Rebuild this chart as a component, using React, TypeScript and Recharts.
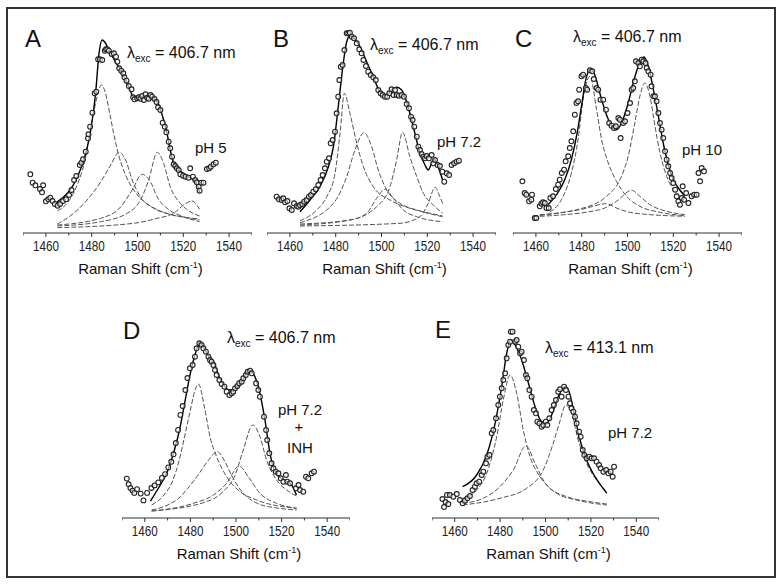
import React from "react";
import { ComposedChart, Line, Scatter, XAxis, YAxis } from "recharts";

type Pt = [number, number];

// Raman shift (cm-1) vs intensity (arb. units).
// Each panel: measured points, total fit, and the fitted bands.

// A: pH 5, 406.7 nm
const A_POINTS: Pt[] = [
  [1453.2, 58.7], [1454.2, 50.3], [1455.4, 47.7], [1457.4, 44], [1458.3, 40.7], [1458.8, 47.7],
  [1460, 31.7], [1461, 33.7], [1461.9, 35.3], [1462.9, 32], [1463.9, 29], [1465.1, 27.3],
  [1466.2, 29], [1467.5, 32], [1468.8, 33.7], [1470.1, 38], [1471.2, 43], [1472.3, 53],
  [1473.3, 57], [1474.8, 68], [1475.5, 70.3], [1476.2, 73.7], [1477.4, 81.3], [1478.4, 94.7],
  [1478.6, 98.7], [1479.3, 106.3], [1480.3, 120.3], [1481.3, 139.7], [1482, 141.3], [1482.8, 173.7],
  [1483.6, 173.7], [1484.6, 173], [1485.7, 182.3], [1486.2, 183.7], [1486.8, 183.7], [1487.5, 182.3],
  [1488.7, 179], [1489.7, 179.7], [1490.6, 176.3], [1491.2, 171.3], [1492, 164.7], [1492.9, 162.3],
  [1493.8, 159.7], [1494.3, 155.7], [1495.2, 152.3], [1496.2, 147], [1497.4, 143.7], [1498.1, 135.7],
  [1498.7, 133.7], [1499.9, 134.7], [1500.6, 135.7], [1501.3, 134.3], [1502, 137], [1502.8, 133],
  [1503.5, 138.7], [1504.2, 135.3], [1504.9, 134.3], [1505.7, 138], [1506.4, 136.3], [1507.4, 134],
  [1508.3, 131], [1509, 125.7], [1510, 123], [1511, 110.3], [1511.9, 106.3], [1512.6, 100.7],
  [1513.6, 91.3], [1514.3, 84.7], [1515.1, 76.3], [1515.8, 68.7], [1516.5, 67], [1517.2, 64.7],
  [1518, 63], [1518.7, 58.7], [1519.9, 57.3], [1521, 56.3], [1522.3, 55.3], [1523, 64.7],
  [1524.2, 56.3], [1525.2, 53], [1525.9, 50.7], [1526.7, 46.3], [1527.1, 42.3], [1527.8, 50.3],
  [1528.8, 50.3], [1530.3, 64], [1531.3, 64.7], [1532, 66.3], [1533.2, 68.7], [1534.2, 70.3],
];
const A_FIT: Pt[] = [
  [1464.8, 31], [1469.4, 39.7], [1473.8, 56], [1477.4, 79.7], [1479.6, 103], [1481.7, 139.7],
  [1483.2, 179.7], [1484.6, 193], [1485.7, 191], [1487.5, 183], [1490.4, 171], [1493.3, 160],
  [1496.2, 146], [1498.4, 136], [1501.3, 135.7], [1504.2, 136.3], [1507.1, 134.7], [1509.3, 128],
  [1511.4, 113], [1512.9, 99.7], [1514.3, 83], [1515.8, 69.7], [1518, 63], [1520.1, 59.7],
  [1522.3, 56.3], [1524.5, 53], [1526.7, 44.7], [1527.1, 40.3],
];
const A_BAND1: Pt[] = [
  [1465, 22], [1470, 32], [1474, 50], [1477, 72], [1480, 110], [1482, 133], [1484.3, 148],
  [1486, 140], [1488, 118], [1490, 95], [1492, 76], [1495, 57], [1500, 38], [1505, 28],
  [1510, 22], [1515, 18], [1520, 16], [1527, 14],
];
const A_BAND2: Pt[] = [
  [1465, 9], [1470, 16], [1476.7, 29.7], [1483.9, 51], [1488.3, 68], [1491.9, 80.7], [1494.8, 73],
  [1497.7, 53], [1501.3, 36], [1507.1, 24.7], [1515.8, 18], [1527.1, 13],
];
const A_BAND3: Pt[] = [
  [1465, 8], [1483.9, 14.7], [1492.6, 26], [1497.7, 43], [1502, 58.7], [1505.7, 51],
  [1508.6, 36], [1512.9, 24.7], [1520.1, 16.3], [1527.1, 11.3],
];
const A_BAND4: Pt[] = [
  [1465, 7], [1483.9, 11.3], [1495.5, 19.7], [1501.3, 33], [1504.9, 53], [1508.6, 80.7],
  [1511.4, 69.7], [1514.3, 46.3], [1518.7, 29.7], [1523, 21.3], [1527.1, 17],
];
const A_BAND5: Pt[] = [
  [1465, 5.3], [1498.4, 9.7], [1508.6, 14.7], [1515.8, 19.7], [1520.1, 28], [1523.8, 32],
  [1525.9, 28], [1527.1, 23.7],
];

// B: pH 7.2, 406.7 nm
const B_POINTS: Pt[] = [
  [1454.2, 36.3], [1455.2, 33.7], [1456.4, 33], [1457.1, 34.7], [1457.9, 30.7], [1458.9, 32],
  [1459.8, 24.7], [1460.8, 23], [1461.8, 29.7], [1463, 27], [1463.7, 26.3], [1464.4, 28],
  [1465.4, 29], [1466.2, 31.3], [1467.3, 33], [1468.3, 36.3], [1469.2, 38], [1470.2, 41.3],
  [1471.3, 43.7], [1472.4, 48], [1473.4, 53], [1474.3, 58], [1475.3, 64.7], [1476.1, 71.3],
  [1477.1, 74.7], [1477.8, 89.7], [1478.7, 93], [1479.7, 101.3], [1480.4, 119.7], [1481.1, 136.3],
  [1481.6, 153], [1482.2, 166.3], [1483, 168], [1483.8, 183], [1484.8, 199.7], [1485.5, 199.7],
  [1486.2, 200.3], [1487, 196.3], [1488, 194.7], [1489.2, 189.7], [1490.3, 183.7], [1491.3, 179.7],
  [1492.1, 173], [1493.2, 167], [1494.2, 161.3], [1495.3, 158], [1496.4, 155.7], [1497.5, 153],
  [1498.6, 143], [1499.6, 139.7], [1500.5, 138], [1501.5, 136.3], [1502.5, 136.3], [1503.4, 139.7],
  [1504.4, 143.7], [1505.2, 138], [1505.9, 143], [1506.6, 138], [1507.6, 137.3], [1508.8, 138],
  [1509.8, 136.3], [1511, 129], [1512, 124.7], [1512.9, 116.3], [1513.6, 113], [1514.3, 106.3],
  [1515.4, 96.3], [1516.1, 86.3], [1516.8, 83], [1517.5, 79], [1518.3, 76.3], [1519, 74.7],
  [1519.7, 77], [1520.7, 74.7], [1521.9, 78], [1522.6, 69.7], [1523.4, 73], [1524.5, 68],
  [1525.5, 67], [1526.6, 61.3], [1527.4, 51.3], [1528.5, 59.7], [1529.5, 58], [1530.6, 68],
  [1531.7, 69.7], [1532.8, 71.3], [1533.8, 72.3],
];
const B_FIT: Pt[] = [
  [1464.4, 21.3], [1468.8, 33], [1473.1, 46.3], [1476.8, 66.3], [1479, 86.3], [1481.1, 126],
  [1483.3, 169.7], [1484.8, 191.3], [1486.2, 197], [1488, 194.7], [1490.6, 186.3], [1493.5, 171.3],
  [1496.4, 156.3], [1499.3, 141.3], [1502.3, 138], [1504.4, 143], [1506.6, 145.7], [1508.8, 143],
  [1510.7, 133], [1512.4, 119.7], [1514.6, 99.7], [1516.8, 79.7], [1519, 68], [1520.4, 63],
  [1521.9, 69.7], [1523.1, 73.7], [1524.1, 69.7], [1525.5, 61.3], [1526.7, 53],
];
const B_BAND1: Pt[] = [
  [1464.4, 12.3], [1471.7, 23], [1476.1, 36.3], [1479.7, 59.7], [1481.9, 99.7], [1483.8, 139.7],
  [1486.2, 119.7], [1489.2, 89.7], [1492.1, 66.3], [1496.4, 46.3], [1503.7, 33], [1512.4, 24.7],
  [1521.2, 19.7], [1526.7, 17],
];
const B_BAND2: Pt[] = [
  [1464.4, 10.3], [1479, 29.7], [1484.8, 56.3], [1488.4, 83], [1492.4, 100.3], [1495.7, 86.3],
  [1498.6, 63], [1502.3, 43], [1508.1, 29.7], [1515.4, 23], [1526.7, 16.3],
];
const B_BAND3: Pt[] = [
  [1464.4, 9], [1486.2, 13], [1493.5, 19.7], [1497.9, 34.7], [1501.5, 43.7], [1505.2, 34.7],
  [1509.5, 23], [1515.4, 16.3], [1526.7, 11.3],
];
const B_BAND4: Pt[] = [
  [1464.4, 8], [1486.2, 13], [1497.9, 26.3], [1503.7, 46.3], [1506.6, 73], [1509.2, 100.7],
  [1512.4, 76.3], [1515.4, 56.3], [1518.3, 39.7], [1522.6, 28], [1526.7, 19.7],
];
const B_BAND5: Pt[] = [
  [1464.4, 7], [1508.1, 9.7], [1516.8, 16.3], [1520.4, 29.7], [1523.4, 45.7], [1525.5, 36.3],
  [1527, 28],
];

// C: pH 10, 406.7 nm
const C_POINTS: Pt[] = [
  [1454.1, 51.7], [1455.1, 40], [1455.8, 38.3], [1457, 31.7], [1458, 33.3], [1458.3, 38.3],
  [1459.5, 15], [1460.2, 15], [1461.7, 26.7], [1462.4, 29.3], [1463.1, 30.7], [1463.9, 30],
  [1464.6, 25], [1465.6, 25], [1466.3, 35], [1467.5, 36.7], [1468.7, 44], [1469.7, 48.3],
  [1470.4, 53.3], [1471.3, 60], [1472.3, 63.3], [1473, 71.7], [1474.1, 76.7], [1474.8, 85],
  [1475.5, 91.7], [1476.3, 101.7], [1477, 118.3], [1477.7, 130], [1478.4, 131.7], [1478.9, 143.3],
  [1479.9, 156.7], [1480.6, 158.3], [1481.8, 145], [1482.4, 143.3], [1483.6, 162.7], [1484.6, 161.7],
  [1485.3, 154], [1486.5, 145], [1487.2, 143.3], [1488.2, 133.3], [1489.4, 133.3], [1490.6, 123.3],
  [1492, 110], [1493, 107.3], [1494.1, 105], [1494.9, 106.7], [1496, 115], [1496.7, 113.3],
  [1497, 95], [1498.1, 110], [1498.9, 111.7], [1500, 120], [1501.1, 130], [1501.8, 143.3],
  [1502.5, 145], [1503.2, 151.7], [1503.7, 171.7], [1504.7, 170], [1505.4, 166.7], [1506.2, 173.3],
  [1506.9, 171.7], [1507.9, 170], [1508.4, 165], [1509.1, 161.7], [1510.1, 158.3], [1510.5, 146.7],
  [1511.3, 136.7], [1512, 136.7], [1512.7, 131.7], [1513.5, 120], [1514.2, 110], [1514.9, 103.3],
  [1515.6, 95], [1516.4, 81.7], [1517.1, 73.3], [1517.8, 66.7], [1518.6, 60], [1519.3, 55],
  [1520, 50], [1520.8, 43.3], [1521.5, 36.7], [1522.2, 31.7], [1522.9, 28.3], [1523.7, 35],
  [1524.1, 46.7], [1524.7, 33.3], [1525.6, 40], [1526.6, 30], [1528, 36.7], [1529.1, 38.3],
  [1530.2, 38.3], [1531, 60], [1531.7, 51.7], [1532.4, 65], [1533.4, 61.7],
];
const C_FIT: Pt[] = [
  [1465.3, 28.3], [1469, 38.3], [1472.6, 53.3], [1475.5, 73.3], [1478, 100], [1479.9, 126.7],
  [1481.8, 153.3], [1483.8, 164], [1485.7, 158.3], [1487.9, 140], [1490.8, 118.3], [1493.8, 105],
  [1495.2, 103.3], [1497.4, 110], [1500.3, 130], [1502.5, 150], [1504.7, 166.7], [1507.2, 176],
  [1509.1, 166.7], [1511.3, 143.3], [1513.5, 116.7], [1515.6, 90], [1517.8, 68.3], [1520, 53.3],
  [1522.2, 45], [1525.1, 36.7],
];
const C_BAND1: Pt[] = [
  [1466, 20.7], [1471.9, 36.7], [1475.5, 60], [1478.4, 93.3], [1480.6, 133.3], [1483.6, 156.7],
  [1486.5, 123.3], [1488.7, 93.3], [1491.6, 70], [1495.2, 51.7], [1499.6, 36.7], [1505.4, 26.7],
  [1514.2, 20.7], [1525.1, 17.3],
];
const C_BAND2: Pt[] = [
  [1461.7, 17.5], [1480.6, 24], [1490.8, 29.3], [1495.2, 25], [1502.5, 20], [1525.1, 16.7],
];
const C_BAND3: Pt[] = [
  [1461.7, 16.7], [1487.9, 23.3], [1495.2, 31.7], [1501.8, 42.7], [1505.4, 36.7], [1509.8, 28.3],
  [1517.1, 21.7], [1525.1, 18.3],
];
const C_BAND4: Pt[] = [
  [1461.7, 18.3], [1480.6, 25], [1490.8, 36.7], [1496.7, 53.3], [1500.3, 76.7], [1503.2, 110],
  [1505.4, 136.7], [1507.6, 150], [1509.8, 136.7], [1512, 106.7], [1514.2, 80], [1517.1, 56.7],
  [1520, 43.3], [1525.1, 30],
];

// D: pH 7.2 + INH, 406.7 nm
const D_POINTS: Pt[] = [
  [1452.1, 39.4], [1452.9, 33.7], [1453.7, 30], [1454.6, 27.4], [1455.4, 25.1], [1456.6, 28.9],
  [1458.2, 24.4], [1459.4, 17.6], [1461, 25.1], [1462.9, 30], [1464.3, 32.6], [1465.9, 35.6],
  [1467.5, 40.1], [1468.9, 43.9], [1470.3, 50.6], [1471.6, 56.2], [1472.6, 63.7], [1473.6, 75],
  [1474.6, 88.1], [1475.6, 103.1], [1476.6, 112], [1477.8, 128], [1478.7, 140], [1479.8, 149.7],
  [1481, 153], [1482, 161.3],
  [1482.7, 169.7], [1483.9, 174.7], [1484.9, 173], [1485.7, 169.7], [1486.8, 166.3], [1487.9, 161.3],
  [1488.6, 158], [1489.3, 156.3], [1490.1, 153], [1490.8, 148], [1491.5, 143], [1492.7, 138],
  [1493.7, 134], [1494.9, 131.3], [1495.9, 126.3], [1497.1, 123], [1498.1, 124.7], [1498.8, 126.3],
  [1499.6, 129.7], [1500.6, 132], [1501.4, 134.7], [1502.5, 136.3], [1503.2, 139.7], [1504.3, 143],
  [1505.1, 146.3], [1506.2, 147.3], [1506.9, 144.7], [1508.8, 134.7], [1509.8, 128], [1510.5, 121.3],
  [1512.3, 101.3], [1513.2, 88], [1513.7, 78], [1514.6, 64.7], [1515.6, 54.7], [1516.4, 49.7],
  [1517.4, 46.3], [1518.6, 44.7], [1519.6, 39.7], [1520.8, 36.3], [1521.9, 43], [1522.5, 36.3],
  [1523.7, 34.7], [1526.3, 29.7], [1527.4, 33], [1528.1, 28], [1529.5, 26.3], [1530.7, 41.3],
  [1531.7, 39.7], [1533.2, 44.7], [1534.2, 46.3],
];
const D_FIT: Pt[] = [
  [1462.5, 17], [1466, 30], [1470, 47], [1473, 68], [1475.4, 90], [1477.5, 115], [1480, 145],
  [1482, 163], [1484.2, 176], [1486, 170], [1488, 162], [1490.1, 156.3], [1493, 139],
  [1497.4, 128], [1500.3, 129.7], [1503, 138], [1505.4, 148], [1506.9, 146.3], [1509.8, 131.3],
  [1512.7, 98], [1514.9, 64.7], [1517.1, 46.3], [1520.8, 38], [1524.4, 33], [1526.5, 23],
];
const D_BAND1: Pt[] = [
  [1463, 13], [1468, 22], [1472, 36], [1475, 57], [1477.5, 82], [1480, 108], [1481.8, 126],
  [1483.5, 134], [1486.4, 108], [1488.6, 81.3], [1491.5, 61.3], [1495.9, 41.3], [1501.8, 26.3],
  [1509.1, 18], [1526.6, 9.7],
];
const D_BAND2: Pt[] = [
  [1463, 8], [1470, 13], [1475, 20], [1479, 30], [1484, 45], [1488, 58], [1491.8, 66.3],
  [1495, 57], [1498, 43], [1502, 28], [1506, 19], [1510, 14], [1518, 10], [1526.6, 8],
];
const D_BAND3: Pt[] = [
  [1463, 7], [1481.3, 14.7], [1490.1, 23], [1495.9, 34.7], [1501.4, 52], [1505.4, 41.3],
  [1510.5, 24.7], [1517.8, 14.7], [1526.6, 9.7],
];
const D_BAND4: Pt[] = [
  [1463, 7], [1487, 16.3], [1494.3, 26.3], [1499.6, 43], [1503.2, 68], [1507.3, 93],
  [1510.5, 81.3], [1513.4, 58], [1517.8, 38], [1522.2, 28], [1526.6, 22],
];

// E: pH 7.2, 413.1 nm
const E_POINTS: Pt[] = [
  [1454.6, 19], [1455.3, 11], [1456, 16], [1456.6, 23], [1457.2, 14], [1457.9, 23],
  [1459.4, 21.3], [1460.9, 24], [1462.3, 18], [1463.5, 14.7], [1464.5, 17.3], [1465.6, 19.7],
  [1466.7, 22], [1467.9, 28], [1468.9, 31.3], [1469.7, 34.7], [1470.8, 36.3], [1471.9, 43],
  [1472.6, 46.3], [1473.8, 54.7], [1474.4, 61.3], [1475.3, 63], [1476.3, 84.7], [1477, 88],
  [1478.2, 99.7], [1479.2, 113], [1479.9, 121.3], [1480.7, 129.7], [1481.4, 138], [1482.2, 144.7],
  [1482.9, 159.7], [1483.6, 173], [1484.4, 176.3], [1484.7, 186.3], [1485.5, 186.3], [1486.6, 176.3],
  [1487.3, 178], [1488, 171.3], [1488.8, 164.7], [1489.5, 166.3], [1490.5, 158], [1491.4, 143],
  [1492, 139.7], [1492.9, 128], [1493.9, 121.3], [1494.9, 108], [1495.8, 104.7], [1496.4, 96.3],
  [1497.3, 94.7], [1498.3, 91.3], [1499, 93], [1500.1, 96.3], [1500.8, 93], [1501.7, 99.7],
  [1502.7, 108], [1503.7, 113], [1504.6, 118], [1505.6, 126.3], [1506.4, 128.7], [1507.1, 121.3],
  [1508.2, 131.3], [1509, 128], [1510.1, 121.3], [1510.8, 114.7], [1511.5, 109.7], [1512.3, 106.3],
  [1513, 101.3], [1513.7, 94.7], [1514.8, 86.3], [1515.5, 81.3], [1516.4, 68], [1517.1, 63],
  [1518.1, 59.7], [1519.3, 61.3], [1520.3, 59.7], [1521.4, 59.7], [1522.5, 56.3], [1523.6, 53],
  [1524.3, 49.7], [1525.5, 46.3], [1526.7, 48], [1527.7, 44.7], [1528.7, 46.3], [1529.6, 41.3],
  [1530.2, 51.3],
];
const E_FIT: Pt[] = [
  [1463.5, 31.3], [1469.7, 43], [1474.1, 63], [1477.8, 94.7], [1480.7, 131.3], [1482.9, 164.7],
  [1484.7, 178], [1486.6, 173], [1489.5, 158], [1492.5, 134.7], [1495.4, 111.3], [1498.3, 96.3],
  [1500.5, 94.7], [1502.7, 103], [1505.6, 121.3], [1508.6, 131.3], [1510.1, 128], [1512.3, 108],
  [1515.2, 78], [1518.1, 58], [1521.8, 41.3], [1524.8, 31.3], [1527, 24.7],
];
const E_BAND1: Pt[] = [
  [1463.5, 19.7], [1469.7, 28], [1474.1, 44.7], [1478.5, 81.3], [1481.4, 118], [1484.4, 143],
  [1487.3, 124.7], [1490.2, 88], [1493.2, 61.3], [1497.6, 41.3], [1502, 29.7], [1509.4, 21.3],
  [1519.6, 16.3], [1527, 14],
];
const E_BAND2: Pt[] = [
  [1463.5, 14.7], [1472.6, 19.7], [1479.9, 31.3], [1485.8, 48], [1491.4, 72], [1495.4, 54.7],
  [1499, 38], [1504.9, 24.7], [1513.7, 18], [1527, 13],
];
const E_BAND3: Pt[] = [
  [1463.5, 13], [1479.9, 19.7], [1491.7, 29.7], [1499, 48], [1503.4, 74.7], [1506.3, 96.3],
  [1508.9, 113], [1511.5, 104.7], [1514.4, 78], [1518.1, 54.7], [1522.5, 38], [1527, 26.3],
];

const X_TICKS = [1450, 1460, 1470, 1480, 1490, 1500, 1510, 1520, 1530, 1540, 1550];

const FONT = "'Liberation Sans', Arial, Helvetica, sans-serif";
const PLOT_H = 225;

const PANELS = [
  { id: "A", x0: 23, x1: 252, axisY: 233, points: A_POINTS, fit: A_FIT, bands: [A_BAND1, A_BAND2, A_BAND3, A_BAND4, A_BAND5] },
  { id: "B", x0: 267, x1: 496, axisY: 233, points: B_POINTS, fit: B_FIT, bands: [B_BAND1, B_BAND2, B_BAND3, B_BAND4, B_BAND5] },
  { id: "C", x0: 513, x1: 742, axisY: 233, points: C_POINTS, fit: C_FIT, bands: [C_BAND1, C_BAND2, C_BAND3, C_BAND4] },
  { id: "D", x0: 122, x1: 350, axisY: 518, points: D_POINTS, fit: D_FIT, bands: [D_BAND1, D_BAND2, D_BAND3, D_BAND4] },
  { id: "E", x0: 432, x1: 659, axisY: 518, points: E_POINTS, fit: E_FIT, bands: [E_BAND1, E_BAND2, E_BAND3] },
];

const rows = (pts: Pt[]) => pts.map(([x, y]) => ({ x, y }));

function RamanTick(props: any) {
  const { x, y, payload } = props;
  const major = payload.value % 20 === 0;
  return (
    <g>
      <line x1={x} x2={x} y1={y} y2={y + (major ? 4 : 2.5)} stroke="#333" strokeWidth={1} />
      {major && (
        <text
          x={x}
          y={y + 18}
          textAnchor="middle"
          fontSize={15}
          fontFamily={FONT}
          fill="#222"
          textLength={26}
          lengthAdjust="spacingAndGlyphs"
        >
          {payload.value}
        </text>
      )}
    </g>
  );
}

const Ring = (p: any) => (
  <circle cx={p.cx} cy={p.cy} r={2.4} fill="#fff" fillOpacity={0.6} stroke="#222" strokeWidth={1.1} />
);

function Panel({ cfg }: { cfg: (typeof PANELS)[number] }) {
  return (
    <div style={{ position: "absolute", left: cfg.x0, top: cfg.axisY - PLOT_H }}>
      <ComposedChart
        width={cfg.x1 - cfg.x0}
        height={PLOT_H + 30}
        margin={{ top: 0, right: 0, bottom: 0, left: 0 }}
      >
        <XAxis
          type="number"
          dataKey="x"
          domain={[1450, 1550]}
          ticks={X_TICKS}
          interval={0}
          tick={(p: any) => <RamanTick {...p} />}
          tickLine={false}
          tickSize={0}
          tickMargin={0}
          height={30}
          axisLine={{ stroke: "#333", strokeWidth: 1.2 }}
        />
        <YAxis type="number" dataKey="y" domain={[0, PLOT_H]} hide />
        {cfg.bands.map((b, i) => (
          <Line
            key={i}
            data={rows(b)}
            dataKey="y"
            type="monotone"
            stroke="#555"
            strokeWidth={1}
            strokeDasharray="5 2"
            dot={false}
            isAnimationActive={false}
          />
        ))}
        <Line
          data={rows(cfg.fit)}
          dataKey="y"
          type="monotone"
          stroke="#000"
          strokeWidth={1.4}
          dot={false}
          isAnimationActive={false}
        />
        <Scatter data={rows(cfg.points)} dataKey="y" shape={Ring} isAnimationActive={false} />
      </ComposedChart>
    </div>
  );
}

function Lambda({ x, y, value }: { x: number; y: number; value: string }) {
  return (
    <text x={x} y={y} fontSize={16} fontFamily={FONT} fill="#111">
      λ
      <tspan fontSize={10} dy={4}>exc</tspan>
      <tspan dy={-4}> = {value}</tspan>
    </text>
  );
}

export default function App() {
  const txt = { fontFamily: FONT, fill: "#111" };
  return (
    <div style={{ position: "absolute", left: 0, top: 0, width: 783, height: 585, background: "#fff" }}>
      {PANELS.map((p) => (
        <Panel key={p.id} cfg={p} />
      ))}
      <svg width={783} height={585} style={{ position: "absolute", left: 0, top: 0, pointerEvents: "none" }}>
        <rect x={7} y={8} width={768} height={569} fill="none" stroke="#333" strokeWidth={2} />

        <text x={25} y={47} fontSize={24} {...txt}>A</text>
        <text x={273} y={47} fontSize={24} {...txt}>B</text>
        <text x={515} y={47} fontSize={24} {...txt}>C</text>
        <text x={123} y={339} fontSize={24} {...txt}>D</text>
        <text x={435} y={338} fontSize={24} {...txt}>E</text>

        <Lambda x={127} y={58} value="406.7 nm" />
        <Lambda x={370} y={50} value="406.7 nm" />
        <Lambda x={573} y={42} value="406.7 nm" />
        <Lambda x={227} y={343} value="406.7 nm" />
        <Lambda x={545} y={353} value="413.1 nm" />

        <text x={195} y={153} fontSize={15} {...txt}>pH 5</text>
        <text x={437} y={147} fontSize={15} {...txt}>pH 7.2</text>
        <text x={682} y={155} fontSize={15} {...txt}>pH 10</text>
        <text x={300} y={415} fontSize={15} textAnchor="middle" {...txt}>pH 7.2</text>
        <text x={299} y={432} fontSize={15} textAnchor="middle" {...txt}>+</text>
        <text x={300} y={453} fontSize={15} textAnchor="middle" {...txt}>INH</text>
        <text x={608} y={438} fontSize={15} {...txt}>pH 7.2</text>

        {PANELS.map((p) => (
          <text
            key={p.id}
            x={(p.x0 + p.x1) / 2 + 3}
            y={p.axisY + 41}
            fontSize={15}
            textAnchor="middle"
            {...txt}
          >
            Raman Shift (cm
            <tspan fontSize={9} dy={-6}>-1</tspan>
            <tspan dy={6}>)</tspan>
          </text>
        ))}
      </svg>
    </div>
  );
}
